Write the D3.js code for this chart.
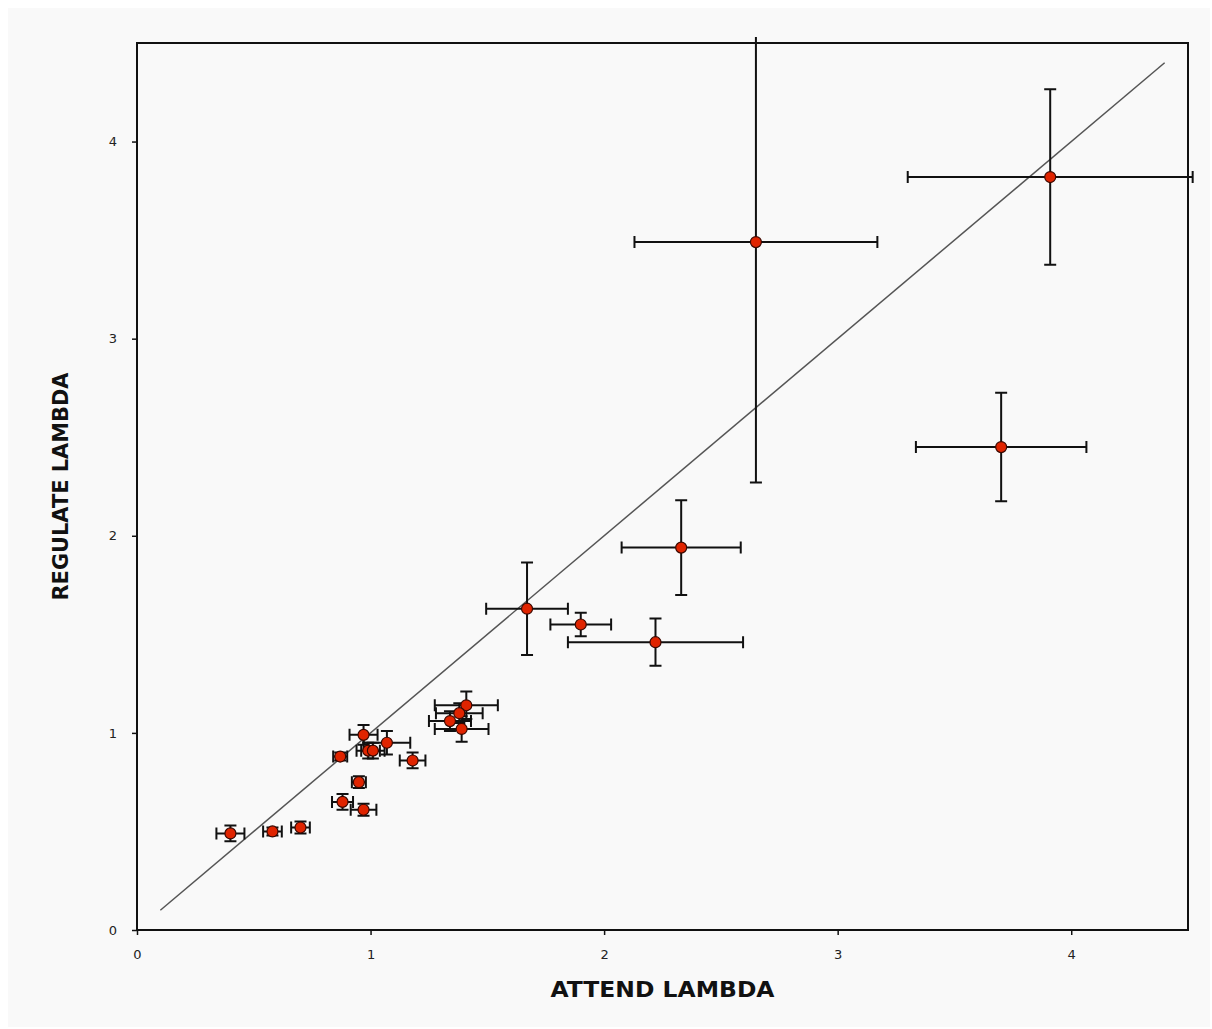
<!DOCTYPE html>
<html>
<head>
<meta charset="utf-8">
<script src="https://cdn.jsdelivr.net/npm/d3@7"></script>
<style>
  html, body { margin: 0; padding: 0; background: #fff; }
  svg { display: block; }
</style>
</head>
<body>
<div id="chart"></div>
<script>
// --- Data ---
const attend    = [0.40, 0.58, 0.70, 0.87, 0.97, 0.99, 1.01, 1.07, 1.18, 0.95, 0.88, 0.97,
                   1.41, 1.38, 1.34, 1.39, 1.67, 1.90, 2.22, 2.33, 2.65, 3.70, 3.91];
const regulate  = [0.49, 0.50, 0.52, 0.88, 0.99, 0.91, 0.91, 0.95, 0.86, 0.75, 0.65, 0.61,
                   1.14, 1.10, 1.06, 1.02, 1.63, 1.55, 1.46, 1.94, 3.49, 2.45, 3.82];
const attendErr = [0.06, 0.04, 0.04, 0.03, 0.06, 0.05, 0.05, 0.10, 0.055, 0.03, 0.045, 0.055,
                   0.135, 0.10, 0.09, 0.115, 0.175, 0.13, 0.375, 0.255, 0.52, 0.365, 0.61];
const regErr    = [0.04, 0.02, 0.03, 0.02, 0.05, 0.04, 0.04, 0.06, 0.04, 0.03, 0.04, 0.03,
                   0.07, 0.05, 0.05, 0.065, 0.235, 0.06, 0.12, 0.24, 1.22, 0.275, 0.445];
const xTicks = [0, 1, 2, 3, 4];
const yTicks = [0, 1, 2, 3, 4];
const lineEnds = [0.1, 4.4];

const points = attend.map((a, i) => ({ x: a, y: regulate[i], ex: attendErr[i], ey: regErr[i] }));

// --- Layout ---
const width = 1212;
const height = 1029;
const margin = { left: 137, right: 24, top: 43, bottom: 99 };
const font = 'Verdana, "DejaVu Sans", sans-serif';

const svg = d3.select('#chart').append('svg')
    .attr('width', width)
    .attr('height', height);

svg.append('rect')
    .attr('x', 8).attr('y', 8)
    .attr('width', width - 10).attr('height', height - 10)
    .attr('fill', '#f9f9f9');

const x = d3.scaleLinear().domain([0, 4.5]).range([margin.left, width - margin.right]);
const y = d3.scaleLinear().domain([0, 4.5]).range([height - margin.bottom, margin.top]);

// error bars run a few px past the frame before being cut
svg.append('clipPath').attr('id', 'clip')
  .append('rect')
    .attr('x', x(0)).attr('y', y(4.5) - 6)
    .attr('width', x(4.5) - x(0) + 6).attr('height', y(0) - y(4.5) + 6);

// frame
svg.append('rect')
    .attr('x', x(0)).attr('y', y(4.5))
    .attr('width', x(4.5) - x(0)).attr('height', y(0) - y(4.5))
    .attr('fill', 'none')
    .attr('stroke', '#111')
    .attr('stroke-width', 2);

// axes
const xAxis = svg.append('g')
    .attr('transform', `translate(0,${y(0)})`)
    .call(d3.axisBottom(x).tickValues(xTicks).tickFormat(d3.format('d')).tickSize(5).tickPadding(15));
const yAxis = svg.append('g')
    .attr('transform', `translate(${x(0)},0)`)
    .call(d3.axisLeft(y).tickValues(yTicks).tickFormat(d3.format('d')).tickSize(5).tickPadding(15));

[xAxis, yAxis].forEach(ax => {
  ax.select('.domain').remove();
  ax.selectAll('line').attr('stroke', '#111').attr('stroke-width', 1.5);
  ax.selectAll('text')
    .attr('fill', '#222')
    .style('font-family', font)
    .style('font-size', '13px');
});

// identity line
svg.append('line')
    .attr('x1', x(lineEnds[0])).attr('y1', y(lineEnds[0]))
    .attr('x2', x(lineEnds[1])).attr('y2', y(lineEnds[1]))
    .attr('stroke', '#555')
    .attr('stroke-width', 1.5);

// error bars
const cap = 6;
const bars = svg.append('g')
    .attr('clip-path', 'url(#clip)')
    .attr('stroke', '#111')
    .attr('stroke-width', 2)
    .attr('fill', 'none');

bars.selectAll('path.ex')
  .data(points)
  .join('path')
    .attr('class', 'ex')
    .attr('d', d => {
      const x0 = x(d.x - d.ex), x1 = x(d.x + d.ex), yy = y(d.y);
      return `M${x0},${yy - cap}V${yy + cap}M${x0},${yy}H${x1}M${x1},${yy - cap}V${yy + cap}`;
    });

bars.selectAll('path.ey')
  .data(points)
  .join('path')
    .attr('class', 'ey')
    .attr('d', d => {
      const y0 = y(d.y - d.ey), y1 = y(d.y + d.ey), xx = x(d.x);
      return `M${xx - cap},${y0}H${xx + cap}M${xx},${y0}V${y1}M${xx - cap},${y1}H${xx + cap}`;
    });

// markers
svg.append('g').selectAll('circle')
  .data(points)
  .join('circle')
    .attr('cx', d => x(d.x))
    .attr('cy', d => y(d.y))
    .attr('r', 5.5)
    .attr('fill', '#e02400')
    .attr('stroke', '#3a0800')
    .attr('stroke-width', 1.2);

// axis titles
svg.append('text')
    .attr('x', (x(0) + x(4.5)) / 2)
    .attr('y', 997)
    .attr('text-anchor', 'middle')
    .attr('textLength', 224)
    .attr('lengthAdjust', 'spacingAndGlyphs')
    .style('font-family', font)
    .style('font-weight', 'bold')
    .style('font-size', '21px')
    .attr('fill', '#111')
    .text('ATTEND LAMBDA');

svg.append('text')
    .attr('transform', `translate(68,${(y(0) + y(4.5)) / 2}) rotate(-90)`)
    .attr('text-anchor', 'middle')
    .attr('textLength', 228)
    .attr('lengthAdjust', 'spacingAndGlyphs')
    .style('font-family', font)
    .style('font-weight', 'bold')
    .style('font-size', '21px')
    .attr('fill', '#111')
    .text('REGULATE LAMBDA');
</script>
</body>
</html>
